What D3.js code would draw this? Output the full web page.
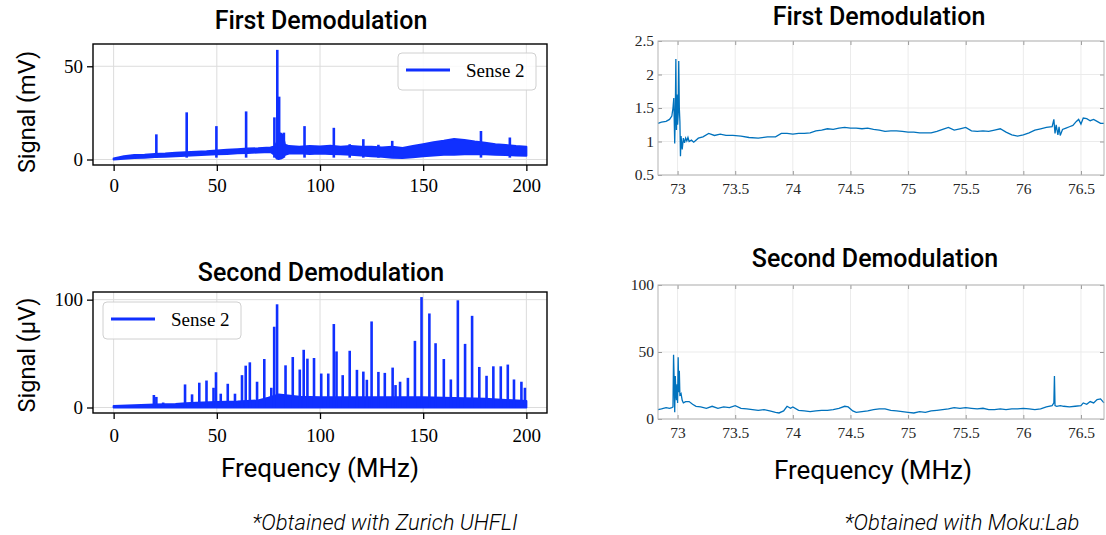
<!DOCTYPE html>
<html>
<head>
<meta charset="utf-8">
<script src="https://cdn.jsdelivr.net/npm/d3@7"></script>
<style>
  body { margin: 0; background: #fff; }
  svg { display: block; }
</style>
</head>
<body>
<svg id="chart"></svg>
<script>
var svg_width = 1106;
var svg_height = 535;

// ---------- DATA ----------
// Zurich UHFLI, first demodulation (mV): noise band + spikes
var zFirstBandFreq  = [0, 5, 10, 15, 20, 25, 30, 35, 40, 45, 50, 55, 60, 65, 70, 76, 78, 79, 80, 81, 82, 83, 85, 90, 95, 100, 105, 110, 115, 120, 125, 130, 135, 140, 145, 150, 155, 160, 165, 170, 175, 180, 185, 190, 195, 200];
var zFirstBandUpper = [0.6, 1.8, 2.4, 2.6, 3.0, 3.2, 3.6, 3.9, 4.2, 4.4, 4.8, 5.2, 5.5, 5.9, 6.0, 6.5, 7, 9, 13, 14, 13, 8, 7.2, 6.8, 7.3, 7, 7.4, 6.9, 7.2, 6.8, 6.9, 6.5, 6.8, 6.2, 7.2, 8.2, 9.2, 10, 11, 10.4, 9.6, 9, 8.2, 7.8, 7.2, 6.8];
var zFirstBandLower = [0, 0.4, 0.8, 1.0, 1.3, 1.5, 1.8, 2.0, 2.3, 2.5, 2.8, 3.0, 3.3, 3.5, 3.8, 4.0, 2.5, 0.5, 0.3, 0.5, 1, 2.5, 3.2, 3.4, 3.0, 3.2, 2.9, 2.8, 2.5, 2.2, 1.8, 1.5, 1.0, 0.8, 1.2, 1.8, 2.2, 2.6, 2.6, 2.8, 2.8, 2.8, 2.6, 2.4, 2.2, 2.0];
var zFirstSpikeFreq = [20.7, 35.4, 49.8, 64.2, 77.9, 79.3, 80.2, 82.5, 92.5, 106.7, 114.4, 121, 128.3, 135, 178, 192];
var zFirstSpikePeak = [13.5, 25.3, 17.9, 25.8, 22.6, 58.8, 33.7, 14.4, 17.9, 17, 8.2, 10.9, 7.9, 10, 15.3, 11.8];

// Zurich UHFLI, second demodulation (uV)
var zSecondBandFreq  = [0, 10, 20, 30, 35, 40, 50, 60, 70, 75, 80, 90, 100, 110, 120, 130, 140, 150, 160, 170, 180, 190, 200];
var zSecondBandUpper = [1.5, 2.2, 2.8, 3.2, 4, 4.5, 5, 5.5, 6.5, 9, 12, 10, 9.5, 9.5, 9.5, 9.5, 9.5, 9.5, 9, 8.5, 8, 7, 6];
var zSecondSpikeFreq = [19.5, 20.7, 24, 34.6, 38, 41.5, 45, 48.4, 49.6, 51.9, 55.3, 58.8, 62.2, 64, 66, 69.5, 73, 76.4, 77.8, 79.2, 83.3, 86.8, 90.2, 92.1, 93.9, 97.1, 100.6, 104, 106.7, 108, 111, 114.4, 117.9, 121, 122.7, 125, 128.3, 131.4, 135.2, 136.6, 138.8, 142.6, 146, 149.2, 153, 156, 160, 163.4, 166.8, 170.3, 173.7, 177.2, 180.7, 184, 187.6, 191, 194, 197.6, 199.3];
var zSecondSpikePeak = [11.6, 9.8, 4.6, 21.4, 12.2, 23, 25, 18.3, 32.7, 12.8, 22, 12.8, 30, 38.8, 41.9, 23.9, 45, 18.3, 74.9, 95.7, 39.1, 46.8, 35.2, 53.5, 45.3, 45.9, 31.5, 31.5, 77.4, 52, 30, 52.6, 34.9, 33.3, 25.7, 79.8, 33, 32.1, 37, 20.8, 23.9, 27.5, 61.8, 102.4, 87.2, 59.6, 45, 26, 99.4, 59, 85, 37.6, 29.4, 38.2, 38.2, 39.8, 26, 23.9, 18.3];

// Moku:Lab, first demodulation
var mFirstFreq = [72.83, 72.86, 72.9, 72.93, 72.95, 72.96, 72.967, 72.975, 72.98, 72.985, 72.99, 72.995, 73.0, 73.005, 73.01, 73.015, 73.02, 73.025, 73.03, 73.04, 73.05, 73.06, 73.07, 73.08, 73.09, 73.1, 73.12, 73.14, 73.18, 73.22, 73.27, 73.32, 73.37, 73.42, 73.48, 73.55, 73.62, 73.7, 73.78, 73.85, 73.9, 73.95, 74.0, 74.05, 74.1, 74.15, 74.2, 74.25, 74.3, 74.35, 74.4, 74.45, 74.5, 74.55, 74.6, 74.65, 74.7, 74.75, 74.8, 74.85, 74.9, 74.95, 75.0, 75.05, 75.1, 75.15, 75.2, 75.25, 75.3, 75.35, 75.4, 75.45, 75.5, 75.55, 75.6, 75.65, 75.7, 75.75, 75.8, 75.85, 75.9, 75.95, 76.0, 76.05, 76.1, 76.15, 76.2, 76.25, 76.265, 76.275, 76.285, 76.3, 76.31, 76.32, 76.34, 76.37, 76.4, 76.43, 76.46, 76.48, 76.5, 76.52, 76.55, 76.58, 76.61, 76.64, 76.67, 76.7];
var mFirstVal  = [1.27, 1.29, 1.30, 1.33, 1.38, 1.5, 1.65, 0.97, 1.4, 2.23, 1.17, 1.7, 1.25, 1.4, 2.2, 1.5, 1.3, 0.78, 1.08, 0.88, 1.05, 0.98, 1.05, 1.01, 1.06, 1.0, 1.02, 0.99, 1.05, 1.07, 1.12, 1.09, 1.11, 1.09, 1.09, 1.08, 1.06, 1.05, 1.07, 1.07, 1.12, 1.12, 1.11, 1.12, 1.12, 1.13, 1.16, 1.17, 1.19, 1.18, 1.2, 1.21, 1.2, 1.2, 1.19, 1.2, 1.18, 1.17, 1.15, 1.16, 1.16, 1.15, 1.14, 1.14, 1.13, 1.13, 1.13, 1.15, 1.18, 1.21, 1.17, 1.19, 1.21, 1.16, 1.15, 1.16, 1.15, 1.17, 1.19, 1.14, 1.1, 1.08, 1.1, 1.13, 1.17, 1.19, 1.21, 1.22, 1.33, 1.12, 1.25, 1.1, 1.22, 1.09, 1.18, 1.2, 1.22, 1.24, 1.3, 1.33, 1.26, 1.35, 1.34, 1.31, 1.33, 1.3, 1.27, 1.27];

// Moku:Lab, second demodulation
var mSecondFreq = [72.83, 72.86, 72.9, 72.93, 72.95, 72.96, 72.965, 72.97, 72.975, 72.98, 72.985, 72.99, 72.995, 73.0, 73.005, 73.01, 73.015, 73.02, 73.03, 73.04, 73.05, 73.07, 73.1, 73.13, 73.16, 73.2, 73.25, 73.3, 73.35, 73.4, 73.45, 73.5, 73.55, 73.6, 73.65, 73.7, 73.75, 73.8, 73.85, 73.88, 73.92, 73.95, 73.98, 74.0, 74.05, 74.1, 74.15, 74.2, 74.25, 74.3, 74.35, 74.4, 74.45, 74.48, 74.52, 74.55, 74.6, 74.65, 74.7, 74.75, 74.8, 74.85, 74.9, 74.95, 75.0, 75.05, 75.1, 75.15, 75.2, 75.25, 75.3, 75.35, 75.4, 75.45, 75.5, 75.55, 75.6, 75.65, 75.7, 75.75, 75.8, 75.85, 75.9, 75.95, 76.0, 76.05, 76.1, 76.15, 76.2, 76.25, 76.265, 76.27, 76.275, 76.29, 76.32, 76.35, 76.4, 76.45, 76.5, 76.52, 76.55, 76.58, 76.61, 76.64, 76.67, 76.7];
var mSecondVal  = [7, 7.5, 8.5, 8, 8.5, 9, 48, 30, 5, 32, 20, 14, 26, 12, 46, 20, 36, 18, 19, 14, 12, 13, 13, 11, 9.5, 9, 8, 9.5, 8, 9, 8.5, 10, 8, 7.5, 7, 6.5, 7, 6, 5, 4.5, 6, 9.5, 8, 9, 6.5, 6, 5.5, 6, 6.5, 6.5, 7, 8, 9.5, 9, 6, 5, 5.5, 6, 7, 7.5, 7.5, 6.5, 6, 5.5, 5, 4.5, 5.5, 5, 6, 6.5, 7, 7.5, 8.5, 8, 8.5, 8, 7.5, 8, 7, 7, 7.5, 7, 7.5, 7.5, 8, 7.5, 7, 7.5, 9, 10, 12, 32, 10, 9.5, 10, 9.5, 9, 9.5, 10, 12, 11, 13, 12, 14.5, 15, 12];

var zFreqTicks   = [0, 50, 100, 150, 200];
var zFirstTicks  = [0, 50];
var zSecondTicks = [0, 100];
var mFreqTicks   = [73, 73.5, 74, 74.5, 75, 75.5, 76, 76.5];
var mFirstTicks  = [0.5, 1, 1.5, 2, 2.5];
var mSecondTicks = [0, 50, 100];

var zBlue = "#1030ff";
var mBlue = "#0072bd";

var svg = d3.select("#chart")
    .attr("width", svg_width)
    .attr("height", svg_height)
    .style("font-family", "Roboto, sans-serif");

// ---------- left panels: matplotlib look ----------
function zurichPanel(top, bottom, yDomain, yTicks, legendX, legendY, pad) {
  var x = d3.scaleLinear().domain([-10, 210]).range([93, 547]);
  var y = d3.scaleLinear().domain(yDomain).range([bottom, top]);
  var g = svg.append("g");

  // grid
  g.selectAll(".vg").data(zFreqTicks).enter().append("line")
      .attr("x1", d => x(d)).attr("x2", d => x(d))
      .attr("y1", top).attr("y2", bottom)
      .attr("stroke", "#dcdcdc").attr("stroke-width", 1);
  g.selectAll(".hg").data(yTicks).enter().append("line")
      .attr("x1", 93).attr("x2", 547)
      .attr("y1", d => y(d)).attr("y2", d => y(d))
      .attr("stroke", "#dcdcdc").attr("stroke-width", 1);

  var xAxis = d3.axisBottom(x).tickValues(zFreqTicks).tickSize(6).tickPadding(pad).tickSizeOuter(0);
  var yAxis = d3.axisLeft(y).tickValues(yTicks).tickSize(6).tickPadding(4).tickSizeOuter(0);
  var gx = g.append("g").attr("transform", "translate(0," + bottom + ")").call(xAxis);
  var gy = g.append("g").attr("transform", "translate(93,0)").call(yAxis);
  [gx, gy].forEach(function(a) {
    a.select(".domain").remove();
    a.selectAll("line").attr("stroke", "#000").attr("stroke-width", 1.3);
    a.selectAll("text")
        .attr("fill", "#000")
        .style("font-family", "'Liberation Serif', 'Times New Roman', serif")
        .style("font-size", "19px");
  });
  return { g: g, x: x, y: y, top: top, bottom: bottom, legendX: legendX, legendY: legendY };
}

function zurichFrame(p) {
  p.g.append("rect")
      .attr("x", 93).attr("y", p.top)
      .attr("width", 547 - 93).attr("height", p.bottom - p.top)
      .attr("fill", "none").attr("stroke", "#000").attr("stroke-width", 1.4);

  var lg = p.g.append("g").attr("transform", "translate(" + p.legendX + "," + p.legendY + ")");
  lg.append("rect")
      .attr("width", 138).attr("height", 37).attr("rx", 4)
      .attr("fill", "#fff").attr("fill-opacity", 0.85)
      .attr("stroke", "#d0d0d0").attr("stroke-width", 1);
  lg.append("line")
      .attr("x1", 8).attr("x2", 52).attr("y1", 17).attr("y2", 17)
      .attr("stroke", zBlue).attr("stroke-width", 3);
  lg.append("text")
      .attr("x", 68).attr("y", 24)
      .style("font-family", "'Liberation Serif', 'Times New Roman', serif")
      .style("font-size", "19px")
      .text("Sense 2");
}

// first demodulation (Zurich)
var p1 = zurichPanel(44, 165, [-2.95, 61.95], zFirstTicks, 398, 53, 8);
var band1 = zFirstBandFreq.map(function(f, i) {
  return { f: f, lo: zFirstBandLower[i], hi: zFirstBandUpper[i] };
});
p1.g.append("path")
    .datum(band1)
    .attr("d", d3.area().x(d => p1.x(d.f)).y0(d => p1.y(d.lo)).y1(d => p1.y(d.hi)))
    .attr("fill", zBlue).attr("stroke", zBlue).attr("stroke-width", 2).attr("stroke-linejoin", "round");
p1.g.selectAll(".spike").data(zFirstSpikeFreq).enter().append("line")
    .attr("x1", d => p1.x(d)).attr("x2", d => p1.x(d))
    .attr("y1", p1.y(1))
    .attr("y2", (d, i) => p1.y(zFirstSpikePeak[i]))
    .attr("stroke", zBlue).attr("stroke-width", 2.6);
zurichFrame(p1);

// second demodulation (Zurich)
var p2 = zurichPanel(292, 413, [-5.1, 107.1], zSecondTicks, 103, 302, 10);
var band2 = zSecondBandFreq.map(function(f, i) {
  return { f: f, hi: zSecondBandUpper[i] };
});
p2.g.append("path")
    .datum(band2)
    .attr("d", d3.area().x(d => p2.x(d.f)).y0(p2.y(0)).y1(d => p2.y(d.hi)))
    .attr("fill", zBlue).attr("stroke", zBlue).attr("stroke-width", 2).attr("stroke-linejoin", "round");
p2.g.selectAll(".spike").data(zSecondSpikeFreq).enter().append("line")
    .attr("x1", d => p2.x(d)).attr("x2", d => p2.x(d))
    .attr("y1", p2.y(0))
    .attr("y2", (d, i) => p2.y(zSecondSpikePeak[i]))
    .attr("stroke", zBlue).attr("stroke-width", 2.6);
zurichFrame(p2);

// ---------- right panels: MATLAB look ----------
function mokuPanel(top, bottom, yDomain, yTicks, freq, vals, fmt) {
  var x = d3.scaleLinear().domain([72.83, 76.7]).range([658, 1104]);
  var y = d3.scaleLinear().domain(yDomain).range([bottom, top]);
  var g = svg.append("g");

  g.selectAll(".vg").data(mFreqTicks).enter().append("line")
      .attr("x1", d => x(d)).attr("x2", d => x(d))
      .attr("y1", top).attr("y2", bottom)
      .attr("stroke", "#ebebeb").attr("stroke-width", 1);
  g.selectAll(".hg").data(yTicks).enter().append("line")
      .attr("x1", 658).attr("x2", 1104)
      .attr("y1", d => y(d)).attr("y2", d => y(d))
      .attr("stroke", "#ebebeb").attr("stroke-width", 1);

  g.append("path")
      .datum(freq)
      .attr("d", d3.line().x(d => x(d)).y((d, i) => y(vals[i])))
      .attr("fill", "none").attr("stroke", mBlue).attr("stroke-width", 1.3);

  var xAxis = d3.axisBottom(x).tickValues(mFreqTicks).tickSize(-4).tickPadding(8).tickSizeOuter(0).tickFormat(d3.format("~g"));
  var yAxis = d3.axisLeft(y).tickValues(yTicks).tickSize(-4).tickPadding(4).tickSizeOuter(0).tickFormat(fmt);
  var xTop = d3.axisTop(x).tickValues(mFreqTicks).tickSize(-4).tickFormat("").tickSizeOuter(0);
  var yRight = d3.axisRight(y).tickValues(yTicks).tickSize(-4).tickFormat("").tickSizeOuter(0);
  var axes = [
    g.append("g").attr("transform", "translate(0," + bottom + ")").call(xAxis),
    g.append("g").attr("transform", "translate(658,0)").call(yAxis),
    g.append("g").attr("transform", "translate(0," + top + ")").call(xTop),
    g.append("g").attr("transform", "translate(1104,0)").call(yRight)
  ];
  axes.forEach(function(a) {
    a.select(".domain").remove();
    a.selectAll("line").attr("stroke", "#9a9a9a");
    a.selectAll("text")
        .attr("fill", "#262626")
        .style("font-family", "'Liberation Serif', 'Times New Roman', serif")
        .style("font-size", "15.5px");
  });

  g.append("rect")
      .attr("x", 658).attr("y", top)
      .attr("width", 1104 - 658).attr("height", bottom - top)
      .attr("fill", "none").attr("stroke", "#b4b4b4").attr("stroke-width", 1);
}

mokuPanel(41, 175, [0.5, 2.5], mFirstTicks, mFirstFreq, mFirstVal, d3.format("~g"));
mokuPanel(285, 419, [0, 100], mSecondTicks, mSecondFreq, mSecondVal, d3.format("~g"));

// ---------- texts ----------
function title(x, y, txt) {
  svg.append("text")
      .attr("x", x).attr("y", y)
      .style("text-anchor", "middle")
      .style("font-size", "25px")
      .style("font-weight", "500")
      .text(txt);
}
title(321, 29, "First Demodulation");
title(321, 281, "Second Demodulation");
title(879, 25, "First Demodulation");
title(875, 267, "Second Demodulation");

svg.append("text")
    .attr("transform", "rotate(-90)")
    .attr("x", -112).attr("y", 35)
    .style("text-anchor", "middle")
    .style("font-size", "23.5px")
    .text("Signal (mV)");
svg.append("text")
    .attr("transform", "rotate(-90)")
    .attr("x", -355).attr("y", 35)
    .style("text-anchor", "middle")
    .style("font-size", "23.5px")
    .text("Signal (μV)");

svg.append("text")
    .attr("x", 320).attr("y", 477)
    .style("text-anchor", "middle")
    .style("font-size", "26px")
    .text("Frequency (MHz)");
svg.append("text")
    .attr("x", 873).attr("y", 479)
    .style("text-anchor", "middle")
    .style("font-size", "26px")
    .text("Frequency (MHz)");

svg.append("text")
    .attr("x", 385).attr("y", 530)
    .style("text-anchor", "middle")
    .style("font-size", "22px")
    .style("font-style", "italic")
    .style("font-weight", "300")
    .text("*Obtained with Zurich UHFLI");
svg.append("text")
    .attr("x", 962).attr("y", 530)
    .style("text-anchor", "middle")
    .style("font-size", "22px")
    .style("font-style", "italic")
    .style("font-weight", "300")
    .text("*Obtained with Moku:Lab");
</script>
</body>
</html>
